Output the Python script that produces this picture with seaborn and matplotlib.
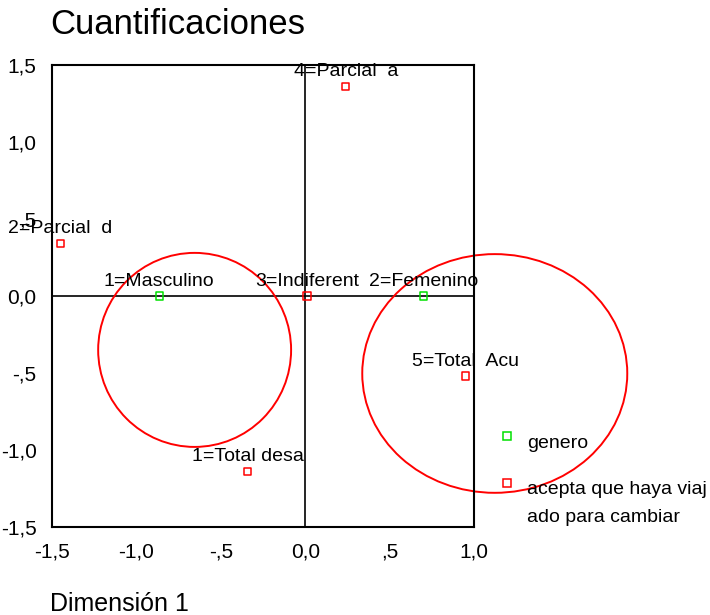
import matplotlib
matplotlib.use("Agg")
import matplotlib.pyplot as plt
from matplotlib.patches import Ellipse
from matplotlib.lines import Line2D
import seaborn as sns
import pandas as pd

# ---- data ----
genero_labels = ["1=Masculino", "2=Femenino"]
genero_x = [-0.865, 0.70]
genero_y = [0.0, 0.0]

acepta_labels = ["1=Total desa", "2=Parcial  d", "3=Indiferent", "4=Parcial  a", "5=Total  Acu"]
acepta_x = [-0.34, -1.45, 0.01, 0.24, 0.95]
acepta_y = [-1.14, 0.34, 0.0, 1.36, -0.52]

series_names = ["genero", "acepta que haya viaj\nado para cambiar"]

xticks = [-1.5, -1.0, -0.5, 0.0, 0.5, 1.0]
xtick_labels = ["-1,5", "-1,0", "-,5", "0,0", ",5", "1,0"]
yticks = [-1.5, -1.0, -0.5, 0.0, 0.5, 1.0, 1.5]
ytick_labels = ["-1,5", "-1,0", "-,5", "0,0", ",5", "1,0", "1,5"]

# ellipses (center x, center y, width, height) in data units
ellipses = [(-0.655, -0.35, 1.143, 1.26), (1.123, -0.503, 1.57, 1.55)]

sns.set_theme(style="white")
plt.rcParams['font.family'] = ['Liberation Sans', 'DejaVu Sans']
plt.rcParams['text.color'] = 'black'

df = pd.DataFrame({
    "x": genero_x + acepta_x,
    "y": genero_y + acepta_y,
    "label": genero_labels + acepta_labels,
    "var": [series_names[0]] * len(genero_x) + [series_names[1]] * len(acepta_x),
})

colors = {series_names[0]: "#00e000", series_names[1]: "#ff0000"}

fig = plt.figure(figsize=(7.1, 6.15), dpi=100)
ax = fig.add_axes([52 / 710, 1 - 527 / 615, (474 - 52) / 710, (527 - 65) / 615])

ax.axhline(0, color="black", lw=1.2, zorder=1)
ax.axvline(0, color="black", lw=1.2, zorder=1)

sns.scatterplot(data=df, x="x", y="y", hue="var", palette=colors, marker="s",
                s=28, legend=False, ax=ax, zorder=3)
for coll in ax.collections:
    fc = coll.get_facecolors()
    coll.set_edgecolors(fc)
    coll.set_facecolors("none")
    coll.set_linewidth(1.1)

for _, r in df.iterrows():
    ax.annotate(r["label"], (r["x"], r["y"]), xytext=(0, 7.5), textcoords="offset points",
                ha="center", va="baseline", fontsize=14, color="black",
                annotation_clip=False, zorder=4)

for cx, cy, w, h in ellipses:
    e = Ellipse((cx, cy), w, h, fill=False, edgecolor="#ff0000", lw=1.4, clip_on=False, zorder=2)
    ax.add_patch(e)

ax.set_xlim(-1.5, 1.0)
ax.set_ylim(-1.5, 1.5)
ax.set_xticks(xticks)
ax.set_xticklabels(xtick_labels, fontsize=15)
ax.set_yticks(yticks)
ax.set_yticklabels(ytick_labels, fontsize=15)
ax.tick_params(axis="both", direction="out", length=5, width=1.2, color="black", pad=6, labelcolor="black")
for sp in ax.spines.values():
    sp.set_color("black")
    sp.set_linewidth(1.5)
ax.set_xlabel("")
ax.set_ylabel("")

fig.text(50 / 710, 1 - 25 / 615, "Cuantificaciones", fontsize=25, ha="left", va="center", color="black")
fig.text(50 / 710, 1 - 604 / 615, "Dimensión 1", fontsize=18, ha="left", va="center", color="black")

# legend drawn manually
leg_items = [(436, series_names[0].split("\n"), colors[series_names[0]]),
             (483, series_names[1].split("\n"), colors[series_names[1]])]
for ypx, lines, col in leg_items:
    fig.add_artist(Line2D([507 / 710], [1 - ypx / 615], marker="s", markersize=5.5,
                          markerfacecolor="none", markeredgecolor=col, markeredgewidth=1.1,
                          linestyle="none", transform=fig.transFigure))
    for i, t in enumerate(lines):
        fig.text(527 / 710, 1 - (ypx + 7 + i * 28) / 615, t, fontsize=14, ha="left", va="center", color="black")

fig.savefig("out.png", dpi=100)
